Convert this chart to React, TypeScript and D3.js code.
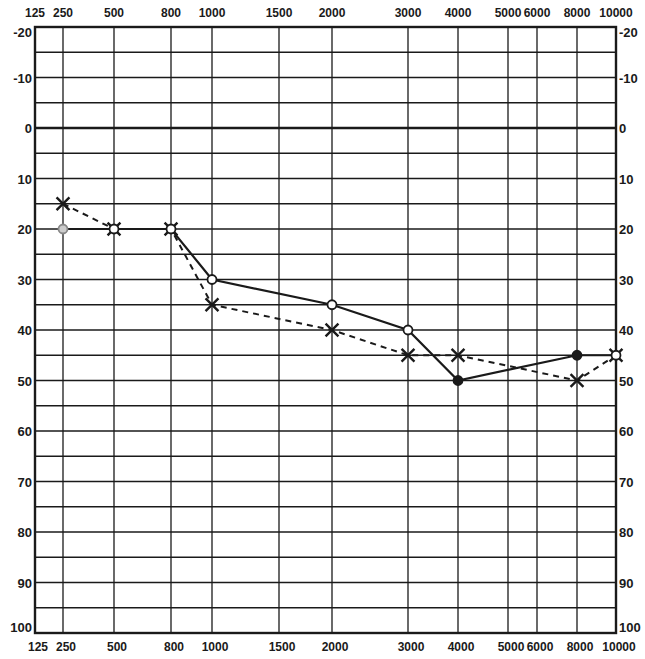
import * as d3 from "d3";

// frequency columns of the audiogram (Hz)
const freqTicks = [125, 250, 500, 800, 1000, 1500, 2000, 3000, 4000, 5000, 6000, 8000, 10000];
// hearing level rows (dB)
const dbLabels = [-20, -10, 0, 10, 20, 30, 40, 50, 60, 70, 80, 90, 100];

// solid line, circles
const solidFreq = [250, 500, 800, 1000, 2000, 3000, 4000, 8000, 10000];
const solidDb = [20, 20, 20, 30, 35, 40, 50, 45, 45];
// dashed line, crosses
const dashFreq = [250, 500, 800, 1000, 2000, 3000, 4000, 8000, 10000];
const dashDb = [15, 20, 20, 35, 40, 45, 45, 50, 45];

// column placement on the printed form (not evenly spaced)
const columnX = [35, 63, 114, 171, 212, 279, 332, 408, 458, 508, 537, 577, 616];

const W = 645;
const H = 659;
const ink = "#1a1a1a";
const font = "'Liberation Sans', Arial, sans-serif";

export default function App() {
  const x = d3.scaleLog().domain(freqTicks).range(columnX);
  const y = d3.scaleLinear().domain([-20, 100]).range([27, 633]);

  const gridRows = d3.range(-20, 101, 5);
  const solid = solidFreq.map((f, i) => ({ f, v: solidDb[i] }));
  const dashed = dashFreq.map((f, i) => ({ f, v: dashDb[i] }));

  const line = d3
    .line<{ f: number; v: number }>()
    .x((d) => x(d.f))
    .y((d) => y(d.v));

  const cross = d3.symbol(d3.symbolTimes, 110)();

  const x0 = x(125);
  const x1 = x(10000);
  const yTop = y(-20);
  const yBot = y(100);

  // nudge the end labels so they sit inside the corners like the printed form
  const labelDy = (v: number) => (v === -20 ? 10 : v === 100 ? -1 : 5);

  return (
    <svg
      width={W}
      height={H}
      style={{ position: "absolute", left: 0, top: 0, background: "#fff" }}
      fontFamily={font}
      fontWeight="bold"
    >
      {/* horizontal grid */}
      {gridRows.map((v) => (
        <line
          key={"h" + v}
          x1={x0}
          x2={x1}
          y1={y(v)}
          y2={y(v)}
          stroke={ink}
          strokeWidth={v === 0 ? 2.4 : 1.3}
        />
      ))}
      {/* vertical grid */}
      {freqTicks.map((f) => (
        <line
          key={"v" + f}
          x1={x(f)}
          x2={x(f)}
          y1={yTop}
          y2={yBot}
          stroke={ink}
          strokeWidth={1.3}
        />
      ))}
      <rect
        x={x0}
        y={yTop}
        width={x1 - x0}
        height={yBot - yTop}
        fill="none"
        stroke={ink}
        strokeWidth={2.4}
      />

      {/* frequency labels top and bottom */}
      {freqTicks.map((f) => (
        <text key={"t" + f} x={x(f)} y={17} textAnchor="middle" fontSize={12} fill={ink}>
          {f}
        </text>
      ))}
      {freqTicks.map((f) => (
        <text key={"b" + f} x={x(f) + 3} y={651} textAnchor="middle" fontSize={12} fill={ink}>
          {f}
        </text>
      ))}

      {/* dB labels left and right */}
      {dbLabels.map((v) => (
        <text
          key={"l" + v}
          x={x0 - 3}
          y={y(v) + labelDy(v)}
          textAnchor="end"
          fontSize={13}
          fill={ink}
        >
          {v}
        </text>
      ))}
      {dbLabels.map((v) => (
        <text
          key={"r" + v}
          x={x1 + 3}
          y={y(v) + labelDy(v)}
          textAnchor="start"
          fontSize={13}
          fill={ink}
        >
          {v}
        </text>
      ))}

      {/* dashed series */}
      <path
        d={line(dashed) ?? ""}
        fill="none"
        stroke={ink}
        strokeWidth={2}
        strokeDasharray="6,5"
      />
      {/* solid series */}
      <path d={line(solid) ?? ""} fill="none" stroke={ink} strokeWidth={2.2} />

      {dashed.map((d) => (
        <path
          key={"x" + d.f}
          d={cross ?? ""}
          transform={`translate(${x(d.f)},${y(d.v)})`}
          fill="none"
          stroke={ink}
          strokeWidth={2.4}
        />
      ))}
      {solid.map((d) => (
        <circle
          key={"c" + d.f}
          cx={x(d.f)}
          cy={y(d.v)}
          r={4.5}
          fill={d.f >= 4000 && d.f < 10000 ? ink : d.f === 250 ? "#ccc" : "#fff"}
          stroke={d.f === 250 ? "#888" : ink}
          strokeWidth={1.8}
        />
      ))}
    </svg>
  );
}
